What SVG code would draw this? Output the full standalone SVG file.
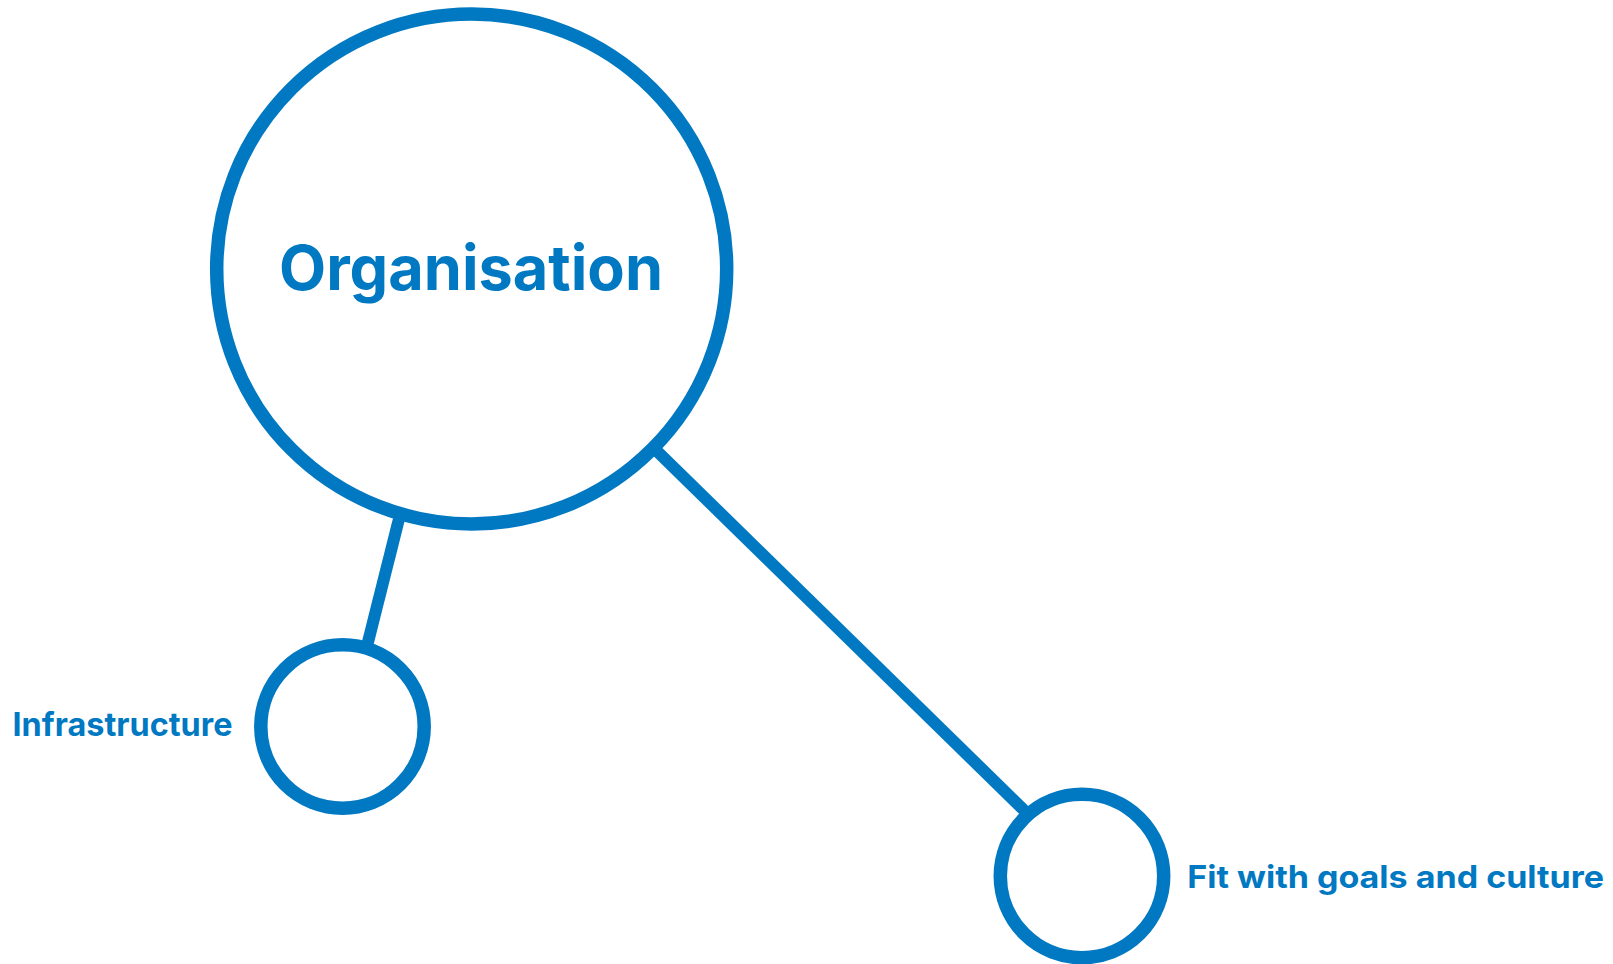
<svg xmlns="http://www.w3.org/2000/svg" width="1613" height="964" viewBox="0 0 1613 964">
<style>
.node{fill:#ffffff;stroke:#0079C2;stroke-width:13.5}
.conn{stroke:#0079C2;stroke-width:12;fill:none}
.lbl{font-family:Inter,"Noto Sans","Liberation Sans",sans-serif;font-weight:700;fill:#0079C2;font-variant-ligatures:none}
</style>
<rect width="1613" height="964" fill="#ffffff"/>
<g id="connectors">
<line class="conn" x1="403" y1="503" x2="364" y2="658"/>
<line class="conn" x1="640" y1="434.5" x2="1035" y2="821"/>
</g>
<g id="organisation">
<circle class="node" cx="471.7" cy="269" r="255"/>
<text class="lbl" x="279" y="290" font-size="62" textLength="384" lengthAdjust="spacingAndGlyphs">Organisation</text>
</g>
<g id="infrastructure">
<circle class="node" cx="342.5" cy="726.5" r="81.7"/>
<text class="lbl" x="12.5" y="736" font-size="32.5" textLength="220" lengthAdjust="spacingAndGlyphs">Infrastructure</text>
</g>
<g id="fit">
<circle class="node" cx="1082" cy="876" r="81.7"/>
<text class="lbl" x="1187.3" y="888" font-size="31.5" textLength="416.7" lengthAdjust="spacingAndGlyphs">Fit with goals and culture</text>
</g>
</svg>
